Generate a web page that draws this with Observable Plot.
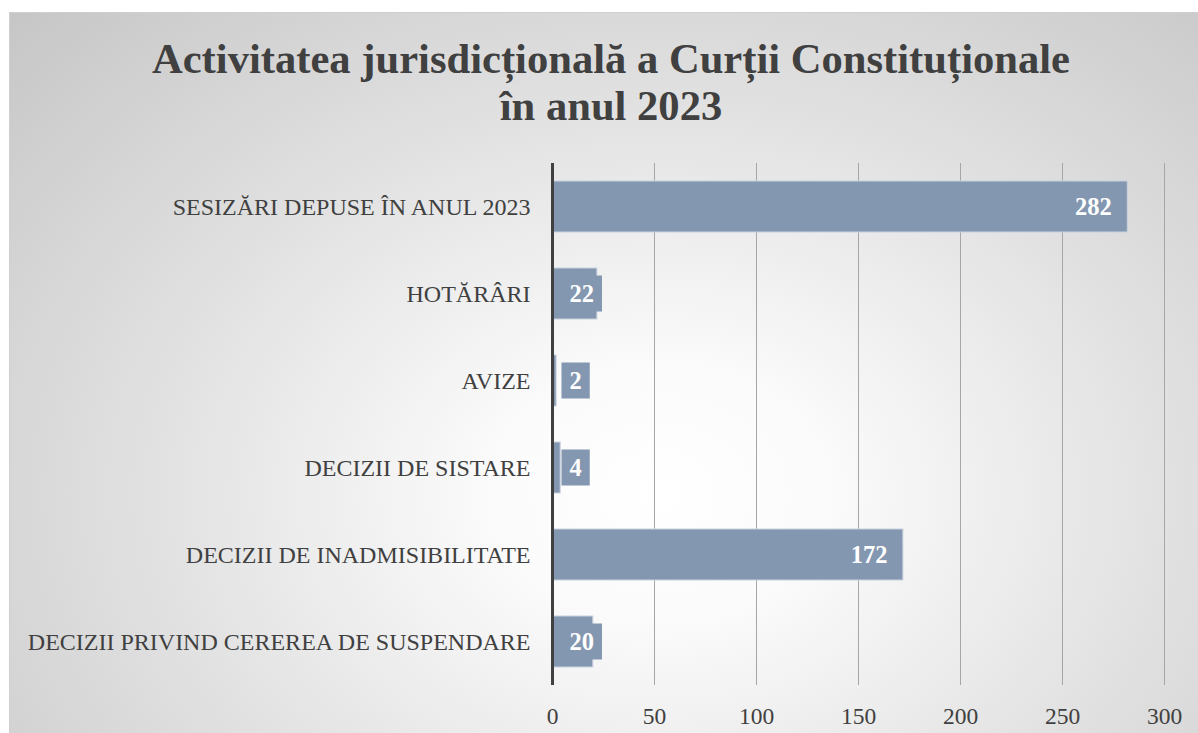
<!DOCTYPE html>
<html>
<head>
<meta charset="utf-8">
<script src="https://cdn.jsdelivr.net/npm/d3@7"></script>
<script src="https://cdn.jsdelivr.net/npm/@observablehq/plot@0.6"></script>
<style>
  html, body { margin: 0; padding: 0; background: #ffffff; }
  body { width: 1198px; height: 733px; overflow: hidden; position: relative;
         font-family: "Liberation Serif", "Times New Roman", serif; }
  #bg { position: absolute; left: 9px; top: 12px; width: 1204px; height: 730px;
        box-sizing: border-box; border: 1px solid #cfcfcf;
        background: radial-gradient(ellipse 75% 95% at 54% 66%, #ffffff 0%, #fbfbfb 18%, #e2e2e2 55%, #c6c6c6 100%); }
  #title { position: absolute; left: 9px; top: 35px; width: 1204px; text-align: center;
           font-weight: bold; font-size: 42.6px; line-height: 47px; color: #404040; }
  #chart { position: absolute; left: 0; top: 150px; }
</style>
</head>
<body>
<div id="bg"></div>
<div id="title">Activitatea jurisdicțională a Curții Constituționale<br>în anul 2023</div>
<div id="chart"></div>
<script>
const categories = [
  "SESIZĂRI DEPUSE ÎN ANUL 2023",
  "HOTĂRÂRI",
  "AVIZE",
  "DECIZII DE SISTARE",
  "DECIZII DE INADMISIBILITATE",
  "DECIZII PRIVIND CEREREA DE SUSPENDARE"
];
const values = [282, 22, 2, 4, 172, 20];
const xTicks = [0, 50, 100, 150, 200, 250, 300];

const data = categories.map((c, i) => ({category: c, value: values[i]}));
const maxValue = d3.max(values);
const isSmall = d => d.value < maxValue * 0.12;

const barColor = "#8497b0";

const plot = Plot.plot({
  width: 1198,
  height: 583,
  marginLeft: 552,
  marginRight: 34,
  marginTop: 13,
  marginBottom: 48,
  style: {background: "transparent", fontFamily: "'Liberation Serif', 'Times New Roman', serif", color: "#404040"},
  x: {domain: [0, 300]},
  y: {domain: categories, paddingInner: 0.41, paddingOuter: 0.2},
  marks: [
    Plot.gridX({ticks: xTicks.slice(1), stroke: "#a6a6a6", strokeOpacity: 1, strokeWidth: 1}),
    Plot.axisX({ticks: xTicks, tickSize: 0, tickPadding: 22, fontSize: 23.5, fill: "#404040", label: null}),
    Plot.axisY({tickSize: 0, tickPadding: 22, fontSize: 24, fill: "#404040", label: null}),
    Plot.barX(data, {x: "value", y: "category", fill: barColor, stroke: "#c8d1de", strokeWidth: 1}),
    Plot.ruleX([0], {stroke: "#404040", strokeWidth: 3}),
    Plot.text(data.filter(isSmall), {x: d => 0, y: "category", text: d => String(d.value), dx: 17, textAnchor: "start",
      fill: "#ffffff", fontWeight: "bold", fontSize: 24.5, className: "vlabel"}),
    Plot.text(data.filter(d => !isSmall(d)), {x: "value", y: "category", text: d => String(d.value), dx: -16, textAnchor: "end",
      fill: "#ffffff", fontWeight: "bold", fontSize: 24.5, className: "vlabel"})
  ]
});

document.getElementById("chart").append(plot);

// label boxes behind value labels (bar-coloured, like the data label boxes)
const yScale = plot.scale("y");
const svgRect = plot.getBoundingClientRect();
const ns = "http://www.w3.org/2000/svg";
const boxGroup = document.createElementNS(ns, "g");
boxGroup.setAttribute("aria-label", "label-boxes");
const firstLabelGroup = plot.querySelector("g.vlabel");
plot.querySelectorAll("g.vlabel text").forEach(t => {
  const r = t.getBoundingClientRect();
  const d = data.find(dd => String(dd.value) === t.textContent);
  const cy = yScale.apply(d.category) + yScale.bandwidth / 2;
  const rect = document.createElementNS(ns, "rect");
  rect.setAttribute("x", r.left - svgRect.left - 8);
  rect.setAttribute("width", r.width + 16);
  rect.setAttribute("y", cy - 18);
  rect.setAttribute("height", 36);
  rect.setAttribute("fill", barColor);
  boxGroup.append(rect);
});
firstLabelGroup.parentNode.insertBefore(boxGroup, firstLabelGroup);
</script>
</body>
</html>
